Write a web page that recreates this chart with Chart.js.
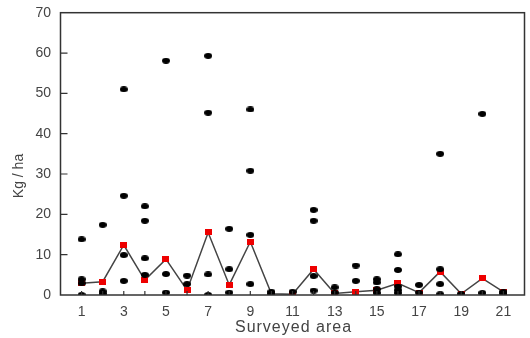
<!DOCTYPE html>
<html>
<head>
<meta charset="utf-8">
<script src="https://cdn.jsdelivr.net/npm/chart.js@4.4.1/dist/chart.umd.min.js"></script>
<style>
  html, body { margin: 0; padding: 0; background: #fff; }
  #wrap { width: 530px; height: 338px; position: relative; }
</style>
</head>
<body>
<div id="wrap"><canvas id="c"></canvas></div>
<script>
// ---- Data ----
const areas = [1, 2, 3, 4, 5, 6, 7, 8, 9, 10, 11, 12, 13, 14, 15, 16, 17, 18, 19, 20, 21];
const xTickLabels = [1, 3, 5, 7, 9, 11, 13, 15, 17, 19, 21];
const yTickLabels = [0, 10, 20, 30, 40, 50, 60, 70];
const meanValues = [2.9, 3.3, 12.4, 3.7, 8.9, 1.2, 15.5, 2.5, 13.2, 0.3, 0.2, 6.4, 0.4, 0.8, 1.2, 2.9, 0.6, 5.8, 0.3, 4.1, 0.8];
const sampleValues = [
  [13.8, 3.9, 2.9, 0],
  [17.4, 0.9, 0.3],
  [51.0, 24.6, 9.9, 3.5],
  [22.0, 18.4, 9.1, 5.0],
  [58.1, 5.2, 0.6],
  [4.8, 2.7],
  [59.3, 45.2, 5.1, 0],
  [16.4, 6.4, 0.6],
  [46.0, 30.8, 14.9, 2.7],
  [0.8, 0.3],
  [0.8],
  [21.1, 18.4, 4.7, 1.1],
  [1.9, 0.6],
  [7.3, 3.5],
  [3.9, 3.1, 1.4, 0.5],
  [10.1, 6.2, 2.1, 1.2, 0.5],
  [2.5, 0.6],
  [35.0, 6.4, 2.7, 0.2],
  [0.3],
  [44.9, 0.5],
  [0.8, 0.4]
];
const xTitle = 'Surveyed area';
const yTitle = 'Kg / ha';

// ---- Build library data ----
const samplePoints = [];
areas.forEach((a, i) => sampleValues[i].forEach(v => samplePoints.push({ x: a, y: v })));
const meanPoints = areas.map((a, i) => ({ x: a, y: meanValues[i] }));

function markImg(w, h, color, shape) {
  const c = document.createElement('canvas');
  c.width = w; c.height = h;
  const g = c.getContext('2d');
  g.fillStyle = color;
  if (shape === 'ellipse') {
    g.beginPath();
    g.ellipse(w / 2, h / 2, w / 2, h / 2, 0, 0, Math.PI * 2);
    g.fill();
  } else {
    g.fillRect(0, 0, w, h);
  }
  return c;
}
const dotImg = markImg(8, 6, '#000', 'ellipse');
const sqImg = markImg(7, 6, '#ee0000', 'rect');

const TEXT = '#444';
const FONT = "'Liberation Sans', Arial, sans-serif";

const framePlugin = {
  id: 'frame',
  afterDraw(chart) {
    const { ctx, chartArea: a, scales } = chart;
    ctx.save();
    ctx.strokeStyle = '#333';
    ctx.lineWidth = 1.5;
    ctx.strokeRect(a.left, a.top, a.right - a.left, a.bottom - a.top);
    ctx.lineWidth = 1.2;
    ctx.beginPath();
    scales.x.ticks.forEach(t => {
      if (t.value <= 0 || t.value >= 22) return;
      const px = scales.x.getPixelForValue(t.value);
      ctx.moveTo(px, a.bottom);
      ctx.lineTo(px, a.bottom - 4);
    });
    scales.y.ticks.forEach(t => {
      if (t.value <= 0 || t.value >= 70) return;
      const py = scales.y.getPixelForValue(t.value);
      ctx.moveTo(a.left, py);
      ctx.lineTo(a.left + 7, py);
    });
    ctx.stroke();
    // axis titles
    ctx.fillStyle = TEXT;
    ctx.font = "16px " + FONT;
    ctx.textAlign = 'center';
    ctx.textBaseline = 'middle';
    if ('letterSpacing' in ctx) ctx.letterSpacing = '1px';
    ctx.fillText(xTitle, (a.left + a.right) / 2 + 1, 328);
    if ('letterSpacing' in ctx) ctx.letterSpacing = '0px';
    ctx.font = "14px " + FONT;
    ctx.translate(19, 176);
    ctx.rotate(-Math.PI / 2);
    ctx.fillText(yTitle, 0, 0);
    ctx.restore();
  }
};

new Chart(document.getElementById('c'), {
  type: 'scatter',
  data: {
    datasets: [
      {
        label: 'samples',
        data: samplePoints,
        pointStyle: dotImg,
        pointRadius: 4,
        showLine: false,
        clip: 0,
        order: 0
      },
      {
        label: 'mean',
        data: meanPoints,
        showLine: true,
        borderColor: '#444',
        borderWidth: 1.5,
        pointStyle: sqImg,
        pointRadius: 4,
        tension: 0,
        order: 1
      }
    ]
  },
  options: {
    responsive: true,
    maintainAspectRatio: false,
    animation: false,
    events: [],
    layout: { padding: { top: 12.7, right: 3, left: 0, bottom: 0 } },
    plugins: { legend: { display: false }, tooltip: { enabled: false } },
    scales: {
      x: {
        type: 'linear',
        min: 0,
        max: 22,
        grid: { display: false, drawTicks: false },
        border: { display: false },
        afterFit(s) { s.height = 43; s.paddingLeft = 0; s.paddingRight = 0; },
        afterBuildTicks(s) {
          s.ticks = areas.concat([0, 22]).sort((p, q) => p - q).map(v => ({ value: v }));
        },
        ticks: {
          autoSkip: false,
          maxRotation: 0,
          padding: 9,
          color: TEXT,
          font: { size: 14, family: FONT },
          callback: v => xTickLabels.includes(v) ? String(v) : ''
        }
      },
      y: {
        min: 0,
        max: 70,
        grid: { display: false, drawTicks: false },
        border: { display: false },
        afterFit(s) { s.width = 60.5; s.paddingTop = 0; s.paddingBottom = 0; },
        afterBuildTicks(s) { s.ticks = yTickLabels.map(v => ({ value: v })); },
        ticks: {
          padding: 9.5,
          color: TEXT,
          font: { size: 14, family: FONT }
        }
      }
    }
  },
  plugins: [framePlugin]
});
</script>
</body>
</html>
